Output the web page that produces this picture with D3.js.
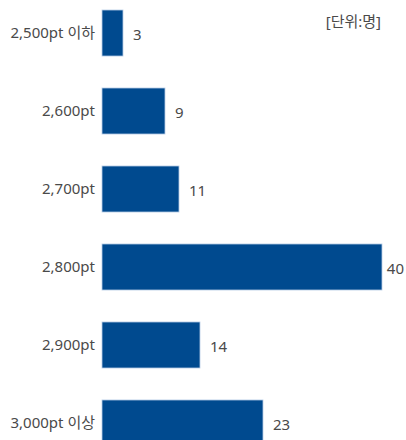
<!DOCTYPE html>
<html><head><meta charset="utf-8">
<script src="https://cdn.jsdelivr.net/npm/d3@7"></script>
<style>
html,body{margin:0;padding:0;background:#fff;}
svg{display:block;}
text{font-family:"Noto Sans","Noto Sans CJK KR",sans-serif;}
</style></head>
<body><svg id="c" width="406" height="440"></svg>
<script>
const categories = ["2,500pt 이하","2,600pt","2,700pt","2,800pt","2,900pt","3,000pt 이상"];
const values = [3, 9, 11, 40, 14, 23];
const unitLabel = "[단위:명]";

const svg = d3.select("#c");
const x = d3.scaleLinear().domain([0, 40]).range([102, 382]);
const y = d3.scaleBand().domain(categories).range([10, 446]).paddingInner(0.41).paddingOuter(0);

const data = categories.map((c, i) => ({c, v: values[i]}));

svg.selectAll("rect.bar").data(data).join("rect")
  .attr("class","bar")
  .attr("x", x(0))
  .attr("y", d => y(d.c))
  .attr("width", d => x(d.v) - x(0))
  .attr("height", y.bandwidth())
  .attr("fill", "#004a8f")
  .attr("stroke", "#b8cde6")
  .attr("stroke-width", 0.8);

svg.selectAll("text.cat").data(data).join("text")
  .attr("class","cat")
  .attr("x", x(0) - 7)
  .attr("y", d => y(d.c) + y.bandwidth()/2 + 5)
  .attr("text-anchor","end")
  .attr("font-size", 15)
  .attr("fill", "#4a4a4a")
  .text(d => d.c);

svg.selectAll("text.val").data(data).join("text")
  .attr("class","val")
  .attr("y", d => y(d.c) + y.bandwidth()/2 + 7)
  .attr("text-anchor","start")
  .attr("font-size", 15)
  .attr("fill", "#4a4a4a")
  .text(d => d.v)
  .each(function(d){
    const w = this.getComputedTextLength();
    const px = Math.min(x(d.v) + 10, 404 - w);
    d3.select(this).attr("x", px);
  });

svg.append("text")
  .attr("x", 381).attr("y", 27)
  .attr("text-anchor","end")
  .attr("font-size", 15)
  .attr("fill", "#4a4a4a")
  .text(unitLabel);
</script></body></html>
